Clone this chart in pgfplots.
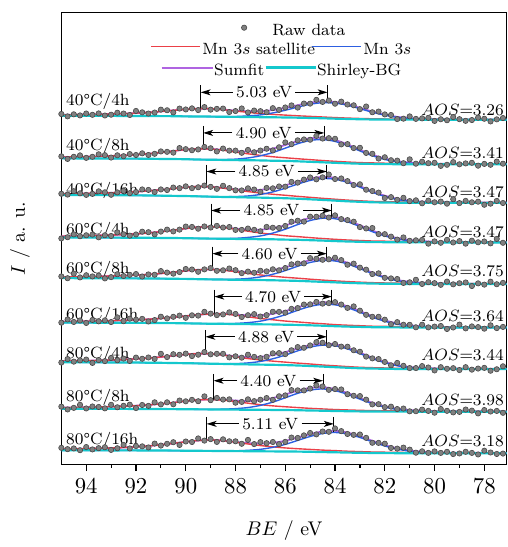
\RequirePackage{fix-cm}
\documentclass[border=0pt]{standalone}
\usepackage{pgfplots}
\pgfplotsset{compat=1.18}
\usepackage{pgfplotstable}
\usetikzlibrary{arrows.meta}

\definecolor{satred}{RGB}{235,64,72}
\definecolor{mnblue}{RGB}{45,95,225}
\definecolor{sumpurple}{RGB}{175,100,225}
\definecolor{bgcyan}{RGB}{20,200,205}
\definecolor{rawfill}{RGB}{128,128,128}
\definecolor{rawedge}{RGB}{70,70,70}

\newcommand{\annfont}{\fontsize{8.25}{10}\selectfont}
\newcommand{\lblfont}{\fontsize{11.5}{13.5}\selectfont}

\pgfplotstableread{
x a1 a2 a3 a4 a5 a6 a7 a8 a9
77.25 349.7 303.6 263.9 223.7 183.2 138.7 98.9 51.9 10.7
77.5 348.4 305.7 266.0 227.6 181.8 137.5 95.9 53.8 10.3
77.75 346.3 302.5 263.2 223.1 184.4 140.3 94.4 53.2 11.8
78 349.0 303.4 262.1 225.0 181.4 136.9 97.3 54.7 13.6
78.25 350.1 301.6 265.2 224.2 182.7 138.5 96.6 51.3 9.8
78.5 347.7 304.5 264.6 225.8 180.0 139.2 95.5 54.1 11.4
78.75 346.9 303.9 266.0 222.8 183.6 137.2 98.0 55.2 12.5
79 348.6 303.0 263.8 225.4 182.8 141.0 95.1 52.8 10.8
79.25 350.7 305.2 267.7 224.0 181.7 138.1 97.0 52.3 10.2
79.5 347.5 302.5 263.2 226.7 184.5 136.6 96.4 53.9 12.5
79.75 348.5 301.4 265.3 223.7 181.2 139.6 98.0 55.7 11.4
80 346.8 304.5 264.6 225.1 182.9 139.0 94.7 52.0 12.9
80.25 349.9 304.1 266.3 222.8 183.9 138.2 97.7 53.8 11.4
80.5 349.4 305.6 263.6 226.6 182.1 140.9 99.1 55.1 13.0
80.75 348.9 303.6 266.6 226.2 186.3 138.3 97.1 53.5 11.6
81 351.4 308.0 265.8 225.7 183.8 140.8 97.1 53.4 14.7
81.25 349.1 304.1 269.1 229.1 183.1 140.9 99.4 56.2 16.7
81.5 348.7 306.7 267.1 226.9 187.1 143.5 102.3 55.7 15.7
81.75 352.8 307.1 269.8 229.9 187.7 141.4 99.9 58.1 16.4
82 353.4 310.1 268.9 232.4 188.3 146.0 103.3 57.6 20.7
82.25 356.3 308.8 274.4 232.5 192.8 148.9 106.2 60.6 21.5
82.5 355.6 313.6 276.0 238.6 192.1 148.9 106.9 60.4 21.6
82.75 361.4 314.5 277.3 238.2 196.5 150.9 108.7 65.2 26.6
83 358.7 319.7 282.8 239.5 198.6 155.1 113.6 68.8 30.0
83.25 362.6 319.4 282.0 245.0 202.6 159.4 115.1 69.1 29.6
83.5 363.4 323.4 286.0 246.6 201.5 157.9 118.7 70.7 30.5
83.75 366.3 323.1 288.7 247.6 206.2 161.3 118.8 75.5 33.4
84 364.2 328.8 288.1 251.4 208.6 163.7 121.4 75.9 36.1
84.25 367.4 329.4 292.7 249.2 207.0 162.7 120.2 75.1 32.7
84.5 366.0 329.0 289.8 251.1 206.5 162.2 122.7 78.5 33.0
84.75 368.1 331.7 287.8 250.0 207.5 163.9 123.3 79.5 30.1
85 364.3 327.8 289.7 250.1 208.2 161.5 120.0 76.4 31.5
85.25 364.4 328.1 287.5 245.1 202.9 161.3 117.6 74.5 29.1
85.5 360.3 327.2 284.5 246.0 202.7 157.7 118.3 74.6 26.5
85.75 362.5 323.3 285.2 245.0 201.9 156.9 115.1 74.8 26.9
86 360.4 325.1 280.4 240.7 198.2 153.1 111.2 69.5 22.5
86.25 358.0 320.2 280.6 238.6 195.9 153.9 112.2 68.6 20.2
86.5 359.7 317.0 278.7 238.9 196.9 154.0 112.0 65.0 22.4
86.75 355.6 318.7 279.1 239.7 194.8 150.6 108.5 66.8 21.2
87 356.7 316.9 275.1 235.3 195.4 149.2 107.1 65.1 22.3
87.25 357.3 315.2 277.5 236.8 193.4 151.6 108.4 63.7 20.3
87.5 355.4 317.5 278.7 238.1 194.6 150.5 110.6 65.5 24.5
87.75 359.4 314.6 276.6 236.7 193.0 148.7 107.6 62.9 20.6
88 356.8 316.8 276.7 236.7 196.0 151.8 109.0 62.1 23.1
88.25 355.8 316.8 278.9 239.6 197.7 153.4 107.9 65.5 23.1
88.5 359.3 318.9 281.3 239.1 195.9 151.3 111.5 65.3 25.1
88.75 359.0 316.0 278.2 240.8 195.4 150.6 111.5 66.9 22.5
89 358.2 319.2 280.2 239.1 198.1 152.1 111.0 64.7 25.3
89.25 360.8 320.5 281.5 240.2 196.8 153.9 113.3 68.5 23.8
89.5 357.8 318.0 279.8 237.9 194.4 150.1 110.6 63.6 26.0
89.75 359.5 317.2 278.9 239.7 196.7 150.4 109.2 65.0 22.4
90 358.4 318.3 280.7 240.1 197.2 147.9 111.7 63.5 22.9
90.25 359.3 319.4 278.9 237.0 194.1 150.1 110.5 64.3 19.4
90.5 355.4 314.8 279.5 235.2 192.5 148.9 111.1 60.5 22.2
90.75 357.6 315.6 277.0 237.0 193.6 147.3 108.2 62.5 20.6
91 358.2 316.0 277.6 235.0 195.1 149.0 111.5 60.4 18.8
91.25 355.3 313.6 275.0 232.2 191.4 145.6 106.4 62.5 20.8
91.5 354.3 312.4 277.1 234.4 191.7 144.2 107.8 58.9 16.9
91.75 355.5 314.1 277.6 234.9 189.6 146.8 106.5 59.8 18.0
92 356.9 312.4 275.0 232.1 192.1 146.0 107.7 56.7 18.3
92.25 352.8 313.3 273.8 230.9 191.3 147.0 104.3 60.1 15.9
92.5 354.3 311.2 276.1 232.3 190.1 144.5 106.7 59.0 19.4
92.75 355.1 312.1 274.6 234.2 191.9 148.3 105.0 57.5 16.1
93 353.1 309.8 272.2 230.6 189.0 143.6 107.3 60.0 14.4
93.25 352.3 312.2 274.7 231.3 187.7 145.3 104.1 56.4 17.1
93.5 354.4 313.1 275.7 229.2 190.5 144.3 105.2 57.8 16.2
93.75 353.0 310.6 273.1 232.0 189.7 145.7 102.3 58.3 14.9
94 354.3 309.5 272.1 231.3 190.9 142.7 105.7 56.3 17.3
94.25 352.4 312.0 273.7 230.3 188.7 145.2 104.9 60.0 14.1
94.5 353.5 310.6 275.8 232.2 192.5 143.7 103.6 56.9 15.9
94.75 351.4 308.4 272.4 229.3 187.9 146.2 106.2 55.3 15.2
95 353.8 311.0 273.2 228.1 189.7 143.0 102.7 58.1 16.5
}\rawdata

\pgfplotstableread{
x b1 b2 b3 b4 b5 b6 b7 b8 b9
77.1 348.0 303.0 264.0 224.0 182.0 138.0 96.0 53.0 11.0
78 348.0 303.0 264.0 224.0 182.0 138.0 96.0 53.0 11.0
79 348.0 303.0 264.1 224.0 182.0 138.0 96.1 53.0 11.0
80 348.0 303.1 264.1 224.0 182.1 138.0 96.1 53.0 11.0
80.5 348.1 303.1 264.1 224.1 182.1 138.1 96.1 53.0 11.1
81 348.1 303.1 264.2 224.1 182.1 138.1 96.1 53.1 11.1
81.5 348.1 303.1 264.2 224.2 182.2 138.2 96.2 53.1 11.1
82 348.2 303.2 264.4 224.3 182.3 138.3 96.4 53.1 11.2
82.5 348.3 303.4 264.6 224.4 182.5 138.4 96.6 53.2 11.3
83 348.5 303.6 265.1 224.7 182.8 138.7 96.9 53.3 11.5
83.5 348.8 304.0 265.6 225.0 183.2 139.0 97.4 53.5 11.7
84 349.1 304.5 266.3 225.4 183.7 139.4 98.0 53.7 12.0
84.5 349.5 305.0 267.0 225.9 184.2 139.9 98.6 54.0 12.2
85 349.8 305.5 267.6 226.3 184.7 140.3 99.2 54.2 12.5
85.5 350.1 306.0 268.2 226.7 185.2 140.7 99.7 54.5 12.7
86 350.3 306.4 268.7 226.9 185.5 140.9 100.1 54.7 12.8
86.5 350.5 306.6 269.0 227.2 185.8 141.2 100.4 54.8 12.9
87 350.6 306.9 269.3 227.3 186.0 141.3 100.6 54.9 13.0
87.5 350.8 307.1 269.5 227.5 186.1 141.5 100.8 55.0 13.1
88 350.9 307.2 269.8 227.6 186.3 141.6 101.0 55.1 13.2
88.5 351.0 307.4 270.0 227.8 186.5 141.8 101.3 55.2 13.3
89 351.2 307.6 270.3 227.9 186.7 141.9 101.5 55.3 13.4
89.5 351.3 307.8 270.6 228.1 186.9 142.1 101.8 55.4 13.5
90 351.4 308.1 270.9 228.3 187.2 142.3 102.0 55.5 13.6
90.5 351.6 308.3 271.1 228.5 187.3 142.5 102.2 55.6 13.7
91 351.7 308.4 271.3 228.6 187.5 142.6 102.4 55.7 13.8
91.5 351.7 308.6 271.5 228.7 187.6 142.7 102.5 55.8 13.8
92 351.8 308.7 271.6 228.8 187.7 142.8 102.7 55.8 13.9
93 351.9 308.8 271.8 228.9 187.9 142.9 102.8 55.9 13.9
94 352.0 308.9 271.9 229.0 187.9 143.0 102.9 56.0 14.0
95 352.0 309.0 272.0 229.0 188.0 143.0 103.0 56.0 14.0
}\fitbg

\pgfplotstableread{
x r1 r2 r3 r4 r5 r6 r7 r8 r9
77.1 348.2 303.3 264.3 224.4 182.3 138.3 96.3 53.3 11.3
78 348.3 303.4 264.3 224.4 182.4 138.4 96.3 53.4 11.4
79 348.3 303.4 264.5 224.5 182.4 138.4 96.5 53.4 11.5
80 348.4 303.6 264.6 224.6 182.6 138.6 96.6 53.5 11.6
80.5 348.5 303.7 264.7 224.8 182.7 138.7 96.7 53.6 11.7
81 348.6 303.8 264.8 224.9 182.7 138.8 96.7 53.7 11.8
81.5 348.6 303.8 264.9 225.1 182.9 139.0 96.9 53.8 11.9
82 348.8 304.1 265.2 225.3 183.1 139.2 97.2 53.9 12.1
82.5 349.0 304.4 265.5 225.5 183.4 139.4 97.5 54.1 12.3
83 349.3 304.7 266.1 226.0 183.9 139.9 97.9 54.4 12.7
83.5 349.7 305.3 266.8 226.5 184.5 140.4 98.6 54.8 13.1
84 350.2 306.0 267.7 227.2 185.2 141.0 99.4 55.2 13.7
84.5 350.8 306.8 268.6 228.0 186.0 141.9 100.2 55.8 14.2
85 351.4 307.7 269.6 228.9 186.9 142.7 101.2 56.4 14.9
85.5 352.0 308.6 270.6 229.9 187.9 143.7 102.1 57.2 15.6
86 352.7 309.6 271.7 230.8 188.8 144.6 103.1 58.0 16.4
86.5 353.4 310.6 272.7 232.2 189.9 145.9 104.1 58.9 17.5
87 354.3 312.0 274.0 233.6 191.2 147.2 105.3 60.1 18.8
87.5 355.5 313.6 275.4 235.4 192.7 148.9 106.7 61.6 20.4
88 356.8 315.3 277.2 237.4 194.5 150.5 108.4 63.3 22.2
88.5 358.1 317.2 278.9 239.2 196.0 151.7 110.2 64.7 23.7
89 359.1 318.4 280.2 239.9 196.7 151.8 111.4 65.3 24.4
89.5 359.2 318.6 280.5 239.5 196.4 151.0 111.7 64.9 23.9
90 358.5 317.9 279.8 238.1 195.4 149.7 110.9 63.7 22.6
90.5 357.5 316.4 278.5 236.4 193.9 148.4 109.6 62.2 21.0
91 356.4 314.9 277.2 234.9 192.7 147.3 108.3 60.9 19.6
91.5 355.4 313.7 276.2 233.7 191.7 146.4 107.2 59.9 18.4
92 354.7 312.7 275.3 232.7 191.0 145.8 106.4 59.1 17.5
93 353.8 311.4 274.2 231.5 190.1 144.9 105.2 58.1 16.3
94 353.3 310.7 273.5 230.8 189.4 144.4 104.5 57.5 15.7
95 352.9 310.3 273.2 230.3 189.1 144.0 104.2 57.1 15.2
}\fitsat

\pgfplotstableread{
x u1 u2 u3 u4 u5 u6 u7 u8 u9
77.1 348.0 303.0 264.0 224.0 182.0 138.0 96.0 53.0 11.0
78 348.0 303.0 264.0 224.0 182.0 138.0 96.0 53.0 11.0
79 348.0 303.0 264.1 224.0 182.0 138.0 96.1 53.0 11.0
80 348.2 303.2 264.3 224.2 182.3 138.2 96.3 53.1 11.3
80.5 348.5 303.5 264.7 224.7 182.7 138.7 96.7 53.4 12.0
81 349.2 304.1 265.7 225.7 183.6 139.6 97.6 54.1 13.1
81.5 350.4 305.4 267.4 227.5 185.4 141.4 99.4 55.3 15.2
82 352.6 307.9 270.5 230.6 188.4 144.4 102.5 57.6 18.4
82.5 355.6 311.7 274.7 234.9 192.6 148.5 106.7 61.1 22.6
83 359.2 316.5 279.9 240.1 197.6 153.5 111.7 65.7 27.0
83.5 362.7 321.8 284.7 244.9 202.3 158.1 116.5 70.6 30.5
84 364.8 326.1 287.9 248.0 205.3 161.0 119.6 74.3 32.0
84.5 365.2 328.0 288.6 248.5 205.8 161.5 120.2 76.0 31.0
85 363.7 327.1 286.7 246.2 203.8 159.4 118.3 74.8 28.0
85.5 360.8 323.8 283.0 242.1 200.0 155.5 114.5 71.6 24.0
86 357.6 319.3 278.8 237.4 195.6 151.0 110.2 67.1 20.0
86.5 354.9 314.9 275.1 233.5 191.9 147.3 106.5 62.7 17.0
87 352.9 311.6 272.5 230.6 189.2 144.5 103.8 59.4 15.0
87.5 351.9 309.4 271.0 229.1 187.6 143.0 102.3 57.2 14.0
88 351.3 308.2 270.4 228.2 186.9 142.2 101.6 56.1 13.5
88.5 351.2 307.8 270.2 228.0 186.7 142.0 101.5 55.6 13.4
89 351.2 307.7 270.3 227.9 186.7 141.9 101.5 55.4 13.4
89.5 351.3 307.8 270.6 228.1 186.9 142.1 101.8 55.4 13.5
90 351.4 308.1 270.9 228.3 187.2 142.3 102.0 55.5 13.6
90.5 351.6 308.3 271.1 228.5 187.3 142.5 102.2 55.6 13.7
91 351.7 308.4 271.3 228.6 187.5 142.6 102.4 55.7 13.8
91.5 351.7 308.6 271.5 228.7 187.6 142.7 102.5 55.8 13.8
92 351.8 308.7 271.6 228.8 187.7 142.8 102.7 55.8 13.9
93 351.9 308.8 271.8 228.9 187.9 142.9 102.8 55.9 13.9
94 352.0 308.9 271.9 229.0 187.9 143.0 102.9 56.0 14.0
95 352.0 309.0 272.0 229.0 188.0 143.0 103.0 56.0 14.0
}\fitmain

\pgfplotstableread{
x s1 s2 s3 s4 s5 s6 s7 s8 s9
77.1 348.2 303.3 264.3 224.4 182.3 138.3 96.3 53.3 11.3
78 348.3 303.4 264.3 224.4 182.4 138.4 96.3 53.4 11.4
79 348.3 303.4 264.5 224.5 182.4 138.4 96.5 53.4 11.5
80 348.6 303.7 264.8 224.8 182.8 138.8 96.8 53.6 11.9
80.5 348.9 304.1 265.3 225.4 183.3 139.3 97.3 54.0 12.6
81 349.7 304.8 266.3 226.5 184.2 140.3 98.2 54.7 13.8
81.5 350.9 306.1 268.1 228.4 186.1 142.2 100.1 56.0 16.0
82 353.2 308.8 271.3 231.6 189.2 145.3 103.3 58.4 19.3
82.5 356.3 312.7 275.6 236.0 193.5 149.5 107.6 62.0 23.6
83 360.0 317.6 280.9 241.4 198.7 154.7 112.7 66.8 28.2
83.5 363.6 323.1 285.9 246.4 203.6 159.5 117.7 71.9 31.9
84 365.9 327.6 289.3 249.8 206.8 162.6 121.0 75.8 33.7
84.5 366.5 329.8 290.2 250.6 207.6 163.5 121.8 77.8 33.0
85 365.3 329.3 288.7 248.8 206.0 161.8 120.3 77.0 30.4
85.5 362.7 326.4 285.4 245.3 202.7 158.5 116.9 74.3 26.9
86 360.0 322.5 281.8 241.3 198.9 154.7 113.2 70.4 23.6
86.5 357.8 318.9 278.8 238.5 196.0 152.0 110.2 66.8 21.6
87 356.6 316.7 277.2 236.9 194.4 150.4 108.5 64.6 20.8
87.5 356.6 315.9 276.9 237.0 194.2 150.4 108.2 63.8 21.3
88 357.2 316.3 277.8 238.0 195.1 151.1 109.0 64.3 22.5
88.5 358.3 317.6 279.1 239.4 196.2 151.9 110.4 65.1 23.8
89 359.1 318.5 280.2 239.9 196.7 151.8 111.4 65.4 24.4
89.5 359.2 318.6 280.5 239.5 196.4 151.0 111.7 64.9 23.9
90 358.5 317.9 279.8 238.1 195.4 149.7 110.9 63.7 22.6
90.5 357.5 316.4 278.5 236.4 193.9 148.4 109.6 62.2 21.0
91 356.4 314.9 277.2 234.9 192.7 147.3 108.3 60.9 19.6
91.5 355.4 313.7 276.2 233.7 191.7 146.4 107.2 59.9 18.4
92 354.7 312.7 275.3 232.7 191.0 145.8 106.4 59.1 17.5
93 353.8 311.4 274.2 231.5 190.1 144.9 105.2 58.1 16.3
94 353.3 310.7 273.5 230.8 189.4 144.4 104.5 57.5 15.7
95 352.9 310.3 273.2 230.3 189.1 144.0 104.2 57.1 15.2
}\fitsum

% #1 satellite x, #2 main x, #3 label x, #4 arrow y, #5 tick top, #6 left tick bottom, #7 right tick bottom, #8 label
\newcommand{\sepann}[8]{%
  \draw[line width=0.5pt] (axis cs:#1,#5) -- (axis cs:#1,#6);
  \draw[line width=0.5pt] (axis cs:#2,#5) -- (axis cs:#2,#7);
  \node[font=\annfont, inner sep=1.5pt] (lab) at (axis cs:#3,#4) {#8 eV};
  \draw[line width=0.5pt,-{Stealth[length=5pt,width=3pt,inset=1.3pt]}] (lab.west) -- (axis cs:#1,#4);
  \draw[line width=0.5pt,-{Stealth[length=5pt,width=3pt,inset=1.3pt]}] (lab.east) -- (axis cs:#2,#4);
}

\pgfplotsset{
  commonaxis/.style={scale only axis, width=225pt, height=228pt},
  rawstyle/.style={only marks, mark=*, mark size=1.35pt, mark options={fill=rawfill, draw=rawedge, line width=0.3pt}},
}

\begin{document}
\begin{tikzpicture}
\begin{axis}[
  commonaxis,
  xmin=77.1, xmax=95, ymin=0, ymax=456,
  x dir=reverse,
  xtick={78,80,...,94}, minor x tick num=1,
  ytick=\empty,
  xtick pos=bottom, tick align=outside,
  major tick length=3.5pt, minor tick length=1.8pt,
  axis line style={line width=0.6pt},
  every tick/.style={black, line width=0.6pt},
  tick label style={font=\lblfont},
  xticklabel style={yshift=-0.5pt},
  xlabel={$BE$ / eV}, ylabel={$I$ / a. u.},
  label style={font=\lblfont, inner sep=0pt},
  every axis x label/.style={at={(axis description cs:0.5,-0.147)},anchor=center},
  every axis y label/.style={at={(axis description cs:-0.093,0.5)},anchor=center,rotate=90},
]
\pgfplotsinvokeforeach{1,...,9}{
  \addplot[rawstyle, forget plot] table[x=x,y=a#1]{\rawdata};
}
\pgfplotsinvokeforeach{1,...,9}{
  \addplot[sumpurple, line width=0.9pt, smooth, forget plot] table[x=x,y=s#1]{\fitsum};
  \addplot[satred, line width=0.7pt, smooth, forget plot] table[x=x,y=r#1]{\fitsat};
  \addplot[mnblue, line width=0.7pt, smooth, forget plot] table[x=x,y=u#1]{\fitmain};
  \addplot[bgcyan, line width=1.1pt, smooth, forget plot] table[x=x,y=b#1]{\fitbg};
}

\sepann{89.40}{84.30}{86.85}{375.7}{382.7}{359.1}{365.0}{5.03}
\sepann{89.30}{84.43}{86.865}{334.7}{341.7}{318.5}{328.0}{4.90}
\sepann{89.17}{84.33}{86.75}{295.7}{302.7}{280.3}{288.6}{4.85}
\sepann{88.98}{84.13}{86.555}{256.3}{263.3}{239.9}{248.5}{4.85}
\sepann{88.93}{84.33}{86.63}{212.7}{219.7}{196.7}{205.8}{4.60}
\sepann{88.85}{84.13}{86.49}{169.3}{176.3}{151.9}{161.5}{4.70}
\sepann{89.21}{84.33}{86.77}{128.7}{135.7}{111.5}{120.2}{4.88}
\sepann{88.88}{84.48}{86.68}{84.3}{91.3}{65.3}{76.0}{4.40}
\sepann{89.16}{84.05}{86.605}{40.7}{47.7}{24.4}{32.0}{5.11}

\node[anchor=base west, font=\annfont, inner sep=0pt] at (axis cs:94.82,362.3) {40\textdegree C/4h};
\node[anchor=base west, font=\annfont, inner sep=0pt] at (axis cs:94.82,317.3) {40\textdegree C/8h};
\node[anchor=base west, font=\annfont, inner sep=0pt] at (axis cs:94.82,272.0) {40\textdegree C/16h};
\node[anchor=base west, font=\annfont, inner sep=0pt] at (axis cs:94.82,232.3) {60\textdegree C/4h};
\node[anchor=base west, font=\annfont, inner sep=0pt] at (axis cs:94.82,192.7) {60\textdegree C/8h};
\node[anchor=base west, font=\annfont, inner sep=0pt] at (axis cs:94.82,146.0) {60\textdegree C/16h};
\node[anchor=base west, font=\annfont, inner sep=0pt] at (axis cs:94.82,106.7) {80\textdegree C/4h};
\node[anchor=base west, font=\annfont, inner sep=0pt] at (axis cs:94.82,63.3) {80\textdegree C/8h};
\node[anchor=base west, font=\annfont, inner sep=0pt] at (axis cs:94.82,19.7) {80\textdegree C/16h};

\node[anchor=base east, font=\annfont, inner sep=0pt] at (axis cs:77.2,352.3) {$AOS$=3.26};
\node[anchor=base east, font=\annfont, inner sep=0pt] at (axis cs:77.2,309.0) {$AOS$=3.41};
\node[anchor=base east, font=\annfont, inner sep=0pt] at (axis cs:77.2,269.0) {$AOS$=3.47};
\node[anchor=base east, font=\annfont, inner sep=0pt] at (axis cs:77.2,229.0) {$AOS$=3.47};
\node[anchor=base east, font=\annfont, inner sep=0pt] at (axis cs:77.2,189.3) {$AOS$=3.75};
\node[anchor=base east, font=\annfont, inner sep=0pt] at (axis cs:77.2,144.3) {$AOS$=3.64};
\node[anchor=base east, font=\annfont, inner sep=0pt] at (axis cs:77.2,104.3) {$AOS$=3.44};
\node[anchor=base east, font=\annfont, inner sep=0pt] at (axis cs:77.2,59.3) {$AOS$=3.98};
\node[anchor=base east, font=\annfont, inner sep=0pt] at (axis cs:77.2,18.0) {$AOS$=3.18};
\end{axis}

% legend, drawn as keys in an overlaid hidden axis (unit coordinates)
\begin{axis}[commonaxis, hide axis, xmin=0, xmax=1, ymin=0, ymax=1, clip=false]
\addplot[rawstyle, forget plot] coordinates {(0.4104,0.9671)};
\addplot[satred, line width=0.7pt, forget plot] coordinates {(0.2016,0.9261) (0.3104,0.9261)};
\addplot[mnblue, line width=0.7pt, forget plot] coordinates {(0.5622,0.9261) (0.6733,0.9261)};
\addplot[sumpurple, line width=1.1pt, forget plot] coordinates {(0.2252,0.8787) (0.3400,0.8787)};
\addplot[bgcyan, line width=1.2pt, forget plot] coordinates {(0.4585,0.8787) (0.5711,0.8787)};
\node[anchor=base west, font=\annfont, inner sep=0pt] at (axis cs:0.4727,0.9496) {Raw data};
\node[anchor=base west, font=\annfont, inner sep=0pt] at (axis cs:0.3156,0.9079) {Mn 3$s$ satellite};
\node[anchor=base west, font=\annfont, inner sep=0pt] at (axis cs:0.6770,0.9079) {Mn 3$s$};
\node[anchor=base west, font=\annfont, inner sep=0pt] at (axis cs:0.3422,0.8618) {Sumfit};
\node[anchor=base west, font=\annfont, inner sep=0pt] at (axis cs:0.5733,0.8618) {Shirley-BG};
\end{axis}

\path ([xshift=-31pt,yshift=-39pt]current axis.south west) rectangle ([xshift=0.5pt,yshift=6.5pt]current axis.north east);
\end{tikzpicture}
\end{document}
